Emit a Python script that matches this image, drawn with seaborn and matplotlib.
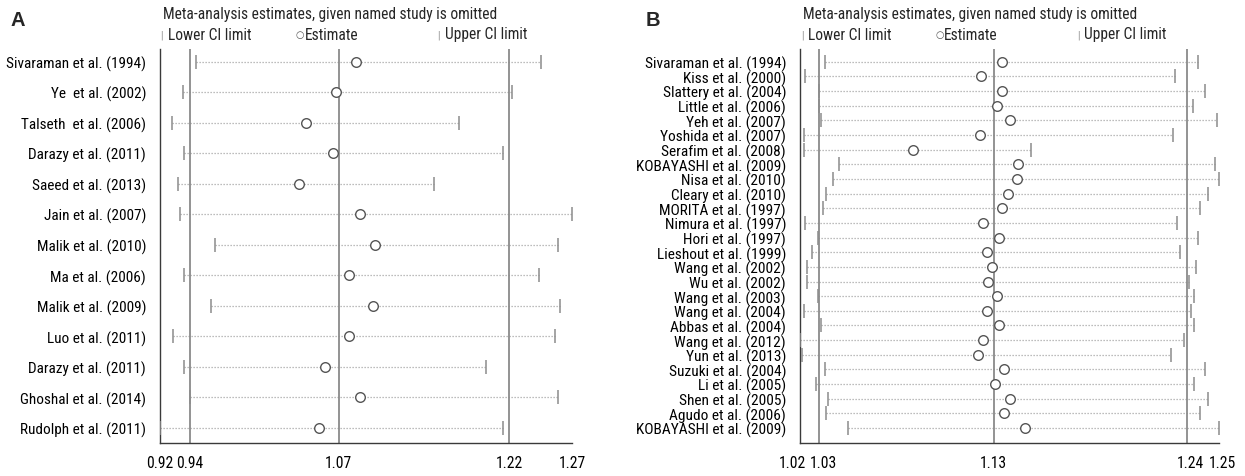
import numpy as np
import pandas as pd
import matplotlib
matplotlib.use("Agg")
import matplotlib.pyplot as plt
from matplotlib import font_manager as fm
from matplotlib.transforms import ScaledTranslation
import seaborn as sns

# ---- Panel A: leave-one-out estimates ----
a_studies = [
    "Sivaraman et al. (1994)", "Ye  et al. (2002)", "Talseth  et al. (2006)",
    "Darazy et al. (2011)", "Saeed et al. (2013)", "Jain et al. (2007)",
    "Malik et al. (2010)", "Ma et al. (2006)", "Malik et al. (2009)",
    "Luo et al. (2011)", "Darazy et al. (2011)", "Ghoshal et al. (2014)",
    "Rudolph et al. (2011)",
]
a_lower = [0.947, 0.936, 0.926, 0.937, 0.932, 0.933, 0.964, 0.937, 0.960,
           0.927, 0.937, 0.942, 0.916]
a_est = [1.086, 1.069, 1.043, 1.066, 1.037, 1.090, 1.103, 1.080, 1.101,
         1.080, 1.059, 1.090, 1.054]
a_upper = [1.247, 1.222, 1.176, 1.214, 1.154, 1.274, 1.262, 1.245, 1.263,
           1.259, 1.199, 1.262, 1.214]
a_overall = [0.942, 1.071, 1.219]   # pooled lower CI, estimate, upper CI

# ---- Panel B: leave-one-out estimates ----
b_studies = [
    "Sivaraman et al. (1994)", "Kiss et al. (2000)", "Slattery et al. (2004)",
    "Little et al. (2006)", "Yeh et al. (2007)", "Yoshida et al. (2007)",
    "Serafim et al. (2008)", "KOBAYASHI et al. (2009)", "Nisa et al. (2010)",
    "Cleary et al. (2010)", "MORITA et al. (1997)", "Nimura et al. (1997)",
    "Hori et al. (1997)", "Lieshout et al. (1999)", "Wang et al. (2002)",
    "Wu et al. (2002)", "Wang et al. (2003)", "Wang et al. (2004)",
    "Abbas et al. (2004)", "Wang et al. (2012)", "Yun et al. (2013)",
    "Suzuki et al. (2004)", "Li et al. (2005)", "Shen et al. (2005)",
    "Agudo et al. (2006)", "KOBAYASHI et al. (2009)",
]
b_lower = [1.030, 1.019, 1.027, 1.027, 1.028, 1.018, 1.018, 1.038, 1.035,
           1.031, 1.029, 1.019, 1.026, 1.023, 1.020, 1.020, 1.026, 1.018,
           1.028, 1.016, 1.017, 1.030, 1.025, 1.032, 1.031, 1.043]
b_est = [1.131, 1.119, 1.131, 1.128, 1.135, 1.118, 1.080, 1.140, 1.139,
         1.134, 1.131, 1.120, 1.129, 1.122, 1.125, 1.123, 1.128, 1.122,
         1.129, 1.120, 1.117, 1.132, 1.127, 1.135, 1.132, 1.144]
b_upper = [1.242, 1.229, 1.246, 1.239, 1.253, 1.228, 1.147, 1.252, 1.254,
           1.248, 1.243, 1.230, 1.242, 1.232, 1.241, 1.237, 1.240, 1.238,
           1.240, 1.234, 1.227, 1.246, 1.240, 1.248, 1.243, 1.254]
b_overall = [1.027, 1.126, 1.236]

TITLE = "Meta-analysis estimates, given named study is omitted"
LEGEND = ["Lower CI limit", "Estimate", "Upper CI limit"]

sns.set_theme(style="white")

# Pick a narrow sans family when one is installed, otherwise plain Liberation Sans.
_entries = fm.fontManager.ttflist
_names = {f.name for f in _entries}
TEXT_FONT = {"family": ["Liberation Sans", "DejaVu Sans"]}
for cand in ["Liberation Sans Narrow", "Arial Narrow", "Roboto Condensed",
             "Noto Sans Condensed", "Noto Sans SemiCondensed", "Open Sans Condensed"]:
    if cand in _names:
        TEXT_FONT = {"family": [cand, "DejaVu Sans"]}
        break
else:
    for fam in ["Roboto", "Noto Sans", "Open Sans"]:
        if any(f.name == fam and str(f.stretch) in ("condensed", "semi-condensed")
               for f in _entries):
            TEXT_FONT = {"family": [fam, "DejaVu Sans"], "fontstretch": "condensed"}
            break
plt.rcParams["font.family"] = TEXT_FONT["family"]

W, H = 1245, 477
fig = plt.figure(figsize=(W / 100, H / 100), dpi=100)
renderer = fig.canvas.get_renderer()


def fit_size(s, target_px, **kw):
    t = fig.text(0, 0, s, fontsize=10, **TEXT_FONT, **kw)
    w = t.get_window_extent(renderer=renderer).width
    t.remove()
    return 10 * target_px / w


FS_TITLE = fit_size(TITLE, 332)
FS_LAB_A = fit_size("Sivaraman et al. (1994)", 139)
FS_LAB_B = fit_size("Sivaraman et al. (1994)", 140)
FS_TICK = fit_size("0.92", 27)

SPINE = "#3a3a3a"
REF = "#8a8a8a"
DOT = "#a8a8a8"
CAP = "#8c8c8c"
CIRC = "#555555"


def px_axes(x0, x1, y0, y1):
    return fig.add_axes([x0 / W, 1 - y1 / H, (x1 - x0) / W, (y1 - y0) / H])


def influence_panel(ax, studies, lower, est, upper, overall, pad_top, pad_bot,
                    fs_lab, label_pad, tick_shift):
    n = len(studies)
    df = pd.DataFrame({"study": studies, "pos": np.arange(n),
                       "lower": lower, "est": est, "upper": upper})
    ax.hlines(df["pos"], df["lower"], df["upper"], colors=DOT,
              linestyles=(0, (1, 1.4)), linewidth=0.9, zorder=1)
    for v in overall:
        ax.axvline(v, color=REF, linewidth=1.3, zorder=2)
    sns.scatterplot(data=df, x="lower", y="pos", marker="|", s=90,
                    color=CAP, linewidth=1.1, ax=ax, zorder=3, legend=False)
    sns.scatterplot(data=df, x="upper", y="pos", marker="|", s=90,
                    color=CAP, linewidth=1.1, ax=ax, zorder=3, legend=False)
    sns.scatterplot(data=df, x="est", y="pos", marker="o", s=48,
                    facecolor="white", edgecolor=CIRC, linewidth=1.0,
                    ax=ax, zorder=4, legend=False)
    xmin, xmax = min(lower), max(upper)
    ax.set_xlim(xmin, xmax)
    ax.set_ylim(n - 1 + pad_bot, -pad_top)
    ticks = [xmin] + list(overall) + [xmax]
    ax.set_xticks(ticks)
    ax.set_xticklabels([f"{t:.2f}" for t in ticks], fontsize=FS_TICK, **TEXT_FONT)
    ax.set_yticks(df["pos"])
    ax.set_yticklabels(df["study"], fontsize=fs_lab, **TEXT_FONT)
    ax.tick_params(axis="y", length=0, pad=label_pad, colors="black")
    ax.tick_params(axis="x", length=5, width=1, direction="out", pad=4,
                   colors="black")
    for t in ax.xaxis.get_ticklines():
        t.set_color(SPINE)
    # nudge crowded tick labels apart
    for lab, dx in zip(ax.get_xticklabels(), tick_shift):
        if dx:
            lab.set_transform(lab.get_transform() +
                              ScaledTranslation(dx / 100, 0, fig.dpi_scale_trans))
    ax.set_xlabel("")
    ax.set_ylabel("")
    for s in ("top", "right"):
        ax.spines[s].set_visible(False)
    for s in ("left", "bottom"):
        ax.spines[s].set_color(SPINE)
        ax.spines[s].set_linewidth(1.0)
    ax.set_facecolor("none")


def header(letter, lx, tx, legx):
    fig.text(lx / W, 1 - 21 / H, letter, fontsize=14.5, fontweight="bold",
             family=["Liberation Sans", "DejaVu Sans"], ha="left", va="center")
    fig.text(tx / W, 1 - 15 / H, TITLE, fontsize=FS_TITLE, ha="left",
             va="center", **TEXT_FONT)
    y = 1 - 35 / H
    (bar1, txt1), (circ, txt2), (bar2, txt3) = legx
    fig.text(bar1 / W, y, "|", fontsize=FS_TITLE * 0.7, color=CAP, ha="left",
             va="center", **TEXT_FONT)
    fig.text(txt1 / W, y, LEGEND[0], fontsize=FS_TITLE, ha="left", va="center",
             **TEXT_FONT)
    fig.text(circ / W, y, "\u25cb", fontsize=FS_TITLE * 0.62, color=CIRC,
             ha="left", va="center", family=["DejaVu Sans"])
    fig.text(txt2 / W, y, LEGEND[1], fontsize=FS_TITLE, ha="left", va="center",
             **TEXT_FONT)
    fig.text(bar2 / W, y, "|", fontsize=FS_TITLE * 0.7, color=CAP, ha="left",
             va="center", **TEXT_FONT)
    fig.text(txt3 / W, y, LEGEND[2], fontsize=FS_TITLE, ha="left", va="center",
             **TEXT_FONT)


axA = px_axes(160, 572.3, 50, 444)
influence_panel(axA, a_studies, a_lower, a_est, a_upper, a_overall,
                pad_top=0.41, pad_bot=0.5, fs_lab=FS_LAB_A, label_pad=10,
                tick_shift=[0, 0, 0, 0, 0])
header("A", 11, 163, ((160, 168), (296, 305), (437, 445)))

axB = px_axes(800, 1219, 50, 444)
influence_panel(axB, b_studies, b_lower, b_est, b_upper, b_overall,
                pad_top=0.87, pad_bot=1.02, fs_lab=FS_LAB_B, label_pad=10,
                tick_shift=[-8, 4, 0, 3, 3])
header("B", 646, 803, ((801, 808), (936, 944), (1077, 1084)))

fig.savefig("out.png", dpi=100, facecolor="white")
